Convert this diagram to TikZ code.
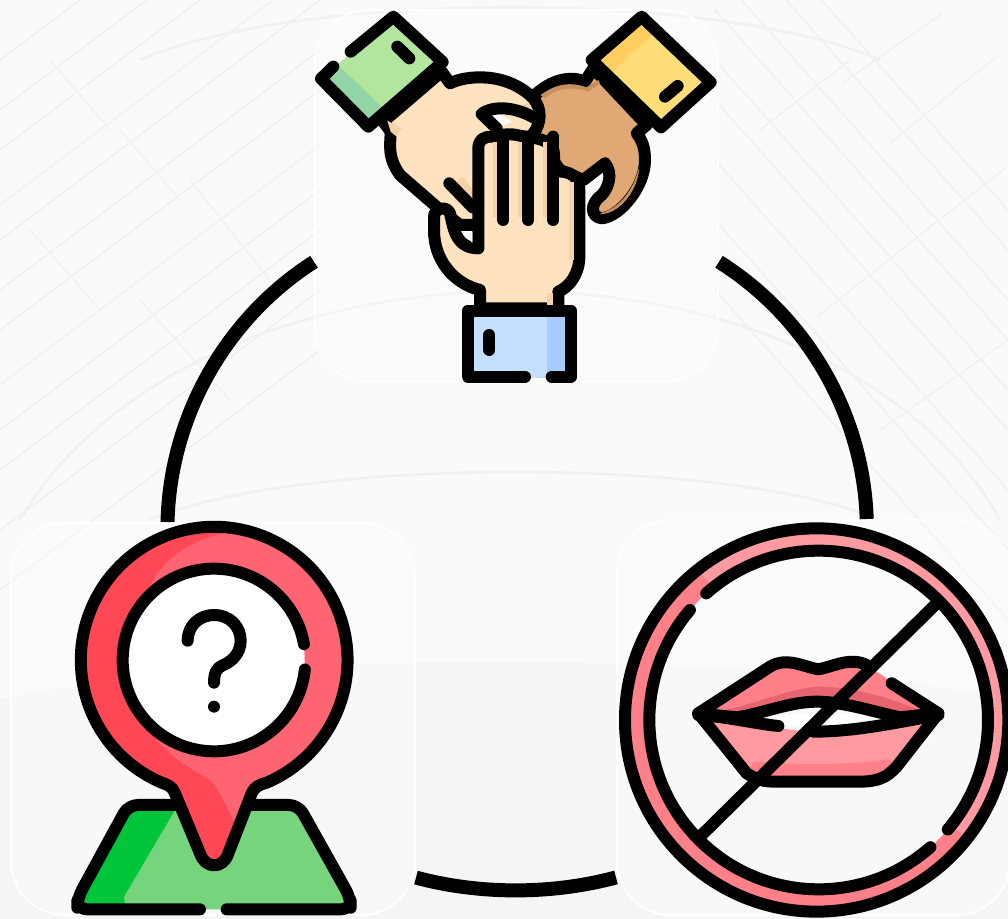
\documentclass[tikz,border=0pt]{standalone}
\usepackage{xcolor}
\usetikzlibrary{positioning, calc}
\definecolor{paperbg}{HTML}{FAFAFA}
\definecolor{paperlow}{HTML}{F5F5F5}
\definecolor{streakgrey}{HTML}{F1F1F1}
\definecolor{cuffgreen}{HTML}{B2E59E}
\definecolor{cuffgreendk}{HTML}{92D4A5}
\definecolor{cuffyellow}{HTML}{FFDE7A}
\definecolor{cuffyellowdk}{HTML}{FFCE5F}
\definecolor{cuffblue}{HTML}{C4DFFF}
\definecolor{cuffbluedk}{HTML}{A4CCFF}
\definecolor{skinlight}{HTML}{FFE2BF}
\definecolor{skinshade}{HTML}{F4D1A6}
\definecolor{skinbrown}{HTML}{E0A875}
\definecolor{skinbrowndk}{HTML}{C68F5E}
\definecolor{pinred}{HTML}{FF6473}
\definecolor{pinreddk}{HTML}{FF4756}
\definecolor{mapgreen}{HTML}{76D47C}
\definecolor{mapgreendk}{HTML}{00C53A}
\definecolor{lipslight}{HTML}{FF9BA0}
\definecolor{lipsmid}{HTML}{FF8089}
\definecolor{lipsdark}{HTML}{E66570}
\tikzset{
  panel/.style={draw=white, line width=1.5pt, draw opacity=0.9, fill=white, fill opacity=0.3, rounded corners=40pt, inner sep=0pt},
  ringline/.style={line width=10.5pt, line cap=butt, black},
  inkline/.style={line width=9pt, line cap=round, line join=round, draw=black},
  icongrid/.style={x=0.25pt, y=-0.25pt},
}
\newcommand{\pinoutline}{(485,818) arc[start angle=113.2, end angle=426.8, radius=400] .. controls (775,825) and (765,830) .. (755,850) -- (685,1030) .. controls (670,1078) and (615,1078) .. (600,1030) -- (525,850) .. controls (517,830) and (505,825) .. (485,818) -- cycle}
\begin{document}
\begin{tikzpicture}[x=0.75pt, y=-0.75pt]
  \useasboundingbox (0,0) rectangle (1008,919);
  \clip (0,0) rectangle (1008,919);
  \fill[paperbg] (0,0) rectangle (1008,919);
  \fill[paperlow] (0,919) -- (0,700) .. controls (200,650) and (800,650) .. (1008,700) -- (1008,919) -- cycle;
  \foreach \o in {60,110,150,205,240,290,330,385,430,470,530,590}{
    \draw[streakgrey, line width=1.2pt] (0,\o) -- (320,\o-240);
  }
  \foreach \o in {-120,-80,-30,10,60,100,160,220,290}{
    \draw[streakgrey, line width=1.2pt] (715,\o) -- (1008,\o+330);
  }
  \foreach \xa/\ya/\xb/\yb in {843/83/943/13, 890/143/996/57, 930/227/1007/167, 817/317/930/227, 760/130/850/60, 880/430/1008/340, 50/60/110/130, 120/130/180/200, 30/230/100/310, 190/180/270/280, 140/300/230/400}{
    \draw[streakgrey, line width=1pt] (\xa,\ya) -- (\xb,\yb);
  }
  \draw[streakgrey, line width=2pt] (20,520) .. controls (200,215) and (830,215) .. (1000,520);
  \draw[streakgrey, line width=2pt] (140,60) .. controls (300,-10) and (720,-10) .. (880,60);
  \draw[streakgrey, line width=2pt] (150,520) .. controls (300,456) and (730,456) .. (880,520);

  \node[panel, minimum width=302.25pt, minimum height=279pt] (handspanel) at (516.5,196) {};
  \node[panel, minimum width=303pt, minimum height=294pt] (pinpanel) at (213,719) {};
  \node[panel, minimum width=294.75pt, minimum height=296.25pt] (lipspanel) at (813.5,717.5) {};

  \draw[ringline] (handspanel.198) to[bend right=28, looseness=0.9] (pinpanel.103);
  \draw[ringline] (handspanel.-18) to[bend left=28, looseness=0.9] (lipspanel.75);
  \draw[ringline] (pinpanel.-38.6) to[bend right=15, looseness=0.85] (lipspanel.219.4);

  \begin{scope}[shift={(300,0)}, icongrid]
    \filldraw[inkline, fill=skinbrown] (880,205) -- (855,245) .. controls (810,225) and (750,240) .. (700,290) -- (700,400) -- (780,510) -- (850,540) -- (915,490) .. controls (940,520) and (925,565) .. (905,585) .. controls (870,610) and (870,650) .. (905,655) .. controls (960,650) and (1035,560) .. (1035,480) .. controls (1035,440) and (1025,420) .. (1010,400) -- (1040,375) -- cycle;
    \fill[skinbrowndk] (860,262) -- (895,240) -- (900,250) -- (865,275) .. controls (810,255) and (760,270) .. (735,295) -- (722,285) .. controls (770,250) and (810,245) .. (860,262) -- cycle;
    \fill[skinbrowndk] (900,640) .. controls (960,625) and (1000,570) .. (1018,500) .. controls (1015,570) and (960,640) .. (905,642) -- cycle;
    \filldraw[inkline, fill=skinlight] (250,365) -- (272,395) .. controls (272,430) and (260,470) .. (300,525) -- (415,625) -- (480,675) -- (530,675) -- (700,400) .. controls (725,370) and (725,325) .. (700,295) .. controls (620,215) and (500,225) .. (450,250) -- (425,215) -- cycle;
    \fill[skinshade] (262,362) -- (305,385) -- (290,410) -- (272,395) -- cycle;
    \fill[skinshade] (655,320) -- (680,310) .. controls (700,325) and (708,345) .. (705,352) -- cycle;
    \fill[skinshade] (470,545) -- (490,530) -- (530,590) -- (515,600) -- cycle;
    \fill[white] (568,345) .. controls (590,335) and (620,350) .. (635,365) -- (605,378) -- cycle;
    \draw[inkline] (710,358) .. controls (650,320) and (580,315) .. (545,342) -- (590,385);
    \draw[inkline] (448,550) -- (518,622);
    \filldraw[inkline, fill=skinlight] (540,925) -- (540,870) .. controls (460,850) and (402,780) .. (402,690) -- (402,650) .. controls (402,625) and (440,615) .. (450,640) .. controls (460,680) and (465,745) .. (535,745) -- (535,445) .. controls (535,420) and (550,410) .. (575,410) .. controls (600,405) and (625,400) .. (650,405) .. controls (690,415) and (762,410) .. (762,465) -- (762,515) .. controls (810,510) and (838,530) .. (838,570) -- (838,770) .. controls (838,820) and (810,860) .. (775,875) -- (775,925) -- cycle;
    \foreach \x in {580,655,730}{
      \fill[skinshade] (\x,425) rectangle (\x+14,650);
    }
    \fill[skinshade] (808,545) rectangle (822,780);
    \fill[skinshade] (742,878) rectangle (760,915);
    \fill[white] (490,700) -- (517,698) -- (517,728) -- cycle;
    \foreach \x in {610,685,760}{
      \draw[inkline] (\x,410) -- (\x,660);
    }
    \fill[cuffgreen] (280,50) -- (428,186) -- (205,380) -- (63,236) -- cycle;
    \fill[cuffgreendk] (82,240) -- (125,205) -- (245,320) -- (208,358) -- cycle;
    \draw[inkline] (100,200) -- (63,236) -- (205,380) -- (428,186) -- (280,50) -- (152,155);
    \draw[inkline] (292,140) -- (328,175);
    \fill[cuffyellow] (1025,50) -- (1232,247) -- (1083,382) -- (875,180) -- cycle;
    \fill[cuffyellowdk] (895,180) -- (1025,65) -- (1060,100) -- (935,218) -- cycle;
    \draw[inkline] (875,180) -- (1025,50) -- (1232,247) -- (1083,382) -- cycle;
    \draw[inkline] (1095,290) -- (1133,258);
    \fill[cuffblue] (503,932) rectangle (813,1134);
    \fill[cuffbluedk] (740,945) rectangle (813,1134);
    \draw[inkline] (675,1130) -- (503,1130) -- (503,932) -- (813,932) -- (813,1130) -- (755,1130);
    \draw[inkline] (568,1005) -- (568,1050);
  \end{scope}

  \begin{scope}[shift={(0,510)}, icongrid]
    \fill[mapgreen] (232,1198) -- (232,1165) -- (385,885) -- (895,885) -- (1052,1165) -- (1052,1198) -- cycle;
    \fill[mapgreendk] (250,1182) -- (245,1160) -- (395,900) -- (525,900) -- (372,1160) -- (375,1184) -- cycle;
    \draw[inkline, rounded corners=7pt] (600,1198) -- (232,1198) -- (232,1165) -- (385,885) -- (895,885) -- (1052,1165) -- (1052,1198) -- (680,1198);
    \fill[pinred] \pinoutline;
    \begin{scope}
      \clip \pinoutline;
      \fill[pinreddk] (670,70) .. controls (540,100) and (470,170) .. (440,250) -- (400,450) -- (470,690) .. controls (520,750) and (580,780) .. (630,810) .. controls (650,830) and (660,850) .. (705,940) -- (642,1090) -- (200,1000) -- (200,0) -- cycle;
    \end{scope}
    \draw[inkline] \pinoutline;
    \fill[white] (642,450) circle[radius=272];
    \draw[inkline] (642,450) ++(6:274) arc[start angle=6, end angle=350, radius=274];
    \draw[inkline] (563,392) .. controls (563,345) and (600,315) .. (642,315) .. controls (690,315) and (722,350) .. (722,392) .. controls (722,430) and (695,455) .. (670,465) .. controls (650,472) and (642,490) .. (642,518);
    \fill[black] (642,590) circle[radius=18];
  \end{scope}

  \begin{scope}[shift={(600,510)}, icongrid]
    \fill[lipslight, even odd rule] (650,630) circle[radius=575] (656,630) circle[radius=508];
    \begin{scope}
      \clip (300,190) -- (1090,980) -- (1000,1400) -- (-100,1400) -- (-100,100) -- cycle;
      \fill[lipsmid, even odd rule] (650,630) circle[radius=575] (656,630) circle[radius=508];
    \end{scope}
    \draw[inkline] (650,630) circle[radius=575];
    \draw[inkline] (656,630) ++(228.4:508) arc[start angle=228.4, end angle=400.3, radius=508];
    \draw[inkline] (656,630) ++(48.7:508) arc[start angle=48.7, end angle=220.5, radius=508];
    \fill[lipsmid] (295,610) -- (510,470) .. controls (560,440) and (610,470) .. (655,478) .. controls (700,470) and (750,440) .. (800,465) -- (1015,610) -- (900,622) .. controls (820,605) and (730,575) .. (650,575) .. controls (570,575) and (490,610) .. (410,622) -- cycle;
    \fill[lipsdark] (345,605) .. controls (450,590) and (550,540) .. (650,530) .. controls (760,530) and (860,560) .. (970,605) -- (900,622) .. controls (820,605) and (730,575) .. (650,575) .. controls (570,575) and (490,610) .. (410,622) -- cycle;
    \fill[lipslight] (295,615) -- (440,790) .. controls (480,815) and (500,815) .. (540,815) -- (780,815) .. controls (850,815) and (870,790) .. (890,770) -- (1015,615) .. controls (880,640) and (760,665) .. (650,665) .. controls (560,665) and (420,630) .. (295,615) -- cycle;
    \fill[lipsmid] (462,755) .. controls (600,765) and (750,765) .. (862,748) -- (890,770) .. controls (870,790) and (850,815) .. (780,815) -- (540,815) .. controls (500,815) and (480,815) .. (440,790) -- cycle;
    \fill[white] (500,630) .. controls (570,605) and (730,595) .. (810,625) .. controls (750,640) and (680,650) .. (640,650) .. controls (600,650) and (540,645) .. (500,630) -- cycle;
    \draw[inkline] (800,465) .. controls (750,440) and (700,470) .. (655,478) .. controls (610,470) and (560,440) .. (510,470) -- (295,610) -- (440,790) .. controls (480,815) and (500,815) .. (540,815) -- (780,815) .. controls (850,815) and (870,790) .. (890,770) -- (1015,610) -- (875,520);
    \draw[inkline] (295,610) -- (410,622) .. controls (490,610) and (570,575) .. (650,575) .. controls (730,575) and (820,605) .. (900,622) -- (1015,610);
    \draw[inkline] (295,615) .. controls (380,620) and (460,640) .. (535,648);
    \draw[inkline] (640,665) .. controls (760,665) and (880,640) .. (1015,615);
    \draw[inkline] (1005,285) -- (305,975);
  \end{scope}
\end{tikzpicture}
\end{document}
